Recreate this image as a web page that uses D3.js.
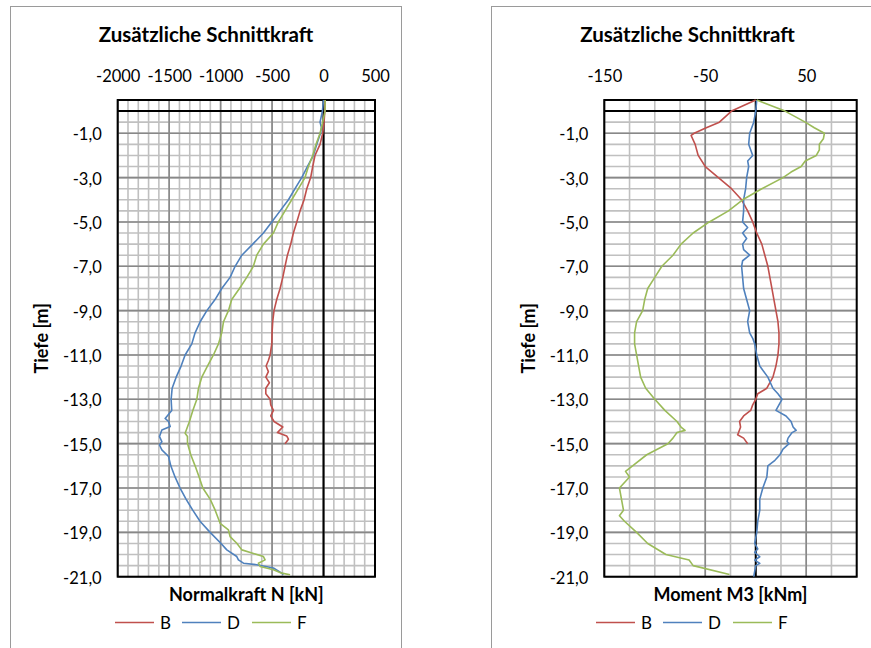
<!DOCTYPE html>
<html>
<head>
<meta charset="utf-8">
<script src="https://cdn.jsdelivr.net/npm/d3@7"></script>
<style>
  body { margin: 0; background: #fff; }
  svg { display: block; }
  text { font-family: Lato, "Open Sans", "DejaVu Sans", sans-serif; fill: #000; }
</style>
</head>
<body>
<svg id="chart" width="871" height="648"></svg>
<script>
// ---- data -------------------------------------------------------------
const seriesNames  = ["B", "D", "F"];
const seriesColors = ["#C0504D", "#4F81BD", "#9BBB59"];

const depthTicks  = [-1, -3, -5, -7, -9, -11, -13, -15, -17, -19, -21];
const normalTicks = [-2000, -1500, -1000, -500, 0, 500];
const momentTicks = [-150, -50, 50];

// Normalkraft N [kN] as [Tiefe m, N]
const normalB = [[0.5,15],[0,12],[-0.5,5],[-1,-8],[-1.5,-34],[-2,-83],[-2.5,-105],[-3,-125],[-3.5,-163],
  [-4,-189],[-4.5,-228],[-5,-260],[-5.5,-293],[-6,-319],[-6.5,-351],[-7,-374],[-7.5,-396],[-8,-422],
  [-8.5,-455],[-9,-481],[-9.5,-494],[-10,-500],[-10.5,-503],[-11,-519],[-11.25,-536],[-11.5,-558],
  [-11.75,-536],[-12,-561],[-12.25,-526],[-12.5,-561],[-12.75,-561],[-13,-519],[-13.25,-513],
  [-13.5,-487],[-13.75,-513],[-14,-481],[-14.25,-396],[-14.5,-448],[-14.65,-358],[-14.8,-341],[-15,-374]];
const normalD = [[0.5,0],[0,-11],[-0.5,-34],[-0.75,-20],[-1,-30],[-1.5,-66],[-2,-99],[-2.5,-157],
  [-3,-212],[-3.5,-277],[-4,-341],[-4.5,-422],[-5,-503],[-5.5,-584],[-6,-688],[-6.5,-794],[-7,-859],
  [-7.5,-908],[-8,-989],[-8.5,-1054],[-9,-1134],[-9.5,-1199],[-10,-1248],[-10.5,-1280],[-11,-1345],
  [-11.5,-1384],[-12,-1432],[-12.5,-1471],[-13,-1481],[-13.5,-1475],[-13.86,-1539],[-14,-1506],
  [-14.23,-1490],[-14.38,-1571],[-14.68,-1594],[-14.91,-1571],[-15.06,-1594],[-15.28,-1571],
  [-15.58,-1506],[-16,-1484],[-16.5,-1443],[-17,-1394],[-17.5,-1336],[-18,-1271],[-18.5,-1200],
  [-19,-1102],[-19.49,-998],[-19.79,-940],[-20.09,-843],[-20.24,-827],[-20.39,-778],[-20.46,-649],
  [-20.61,-487],[-20.84,-406],[-20.91,-390]];
const normalF = [[0.5,15],[0,15],[-0.5,-8],[-1,-34],[-1.5,-73],[-2,-105],[-2.5,-147],[-3,-180],
  [-3.5,-244],[-4,-309],[-4.5,-374],[-5,-439],[-5.5,-487],[-6,-584],[-6.5,-649],[-7,-682],[-7.5,-746],
  [-8,-817],[-8.5,-892],[-9,-924],[-9.5,-972],[-10,-989],[-10.5,-1021],[-11,-1070],[-11.5,-1128],
  [-12,-1183],[-12.5,-1215],[-13,-1231],[-13.5,-1270],[-14,-1303],[-14.53,-1345],[-14.68,-1322],
  [-14.98,-1322],[-15.5,-1290],[-16,-1248],[-16.5,-1209],[-17,-1173],[-17.5,-1102],[-18,-1053],
  [-18.59,-1005],[-18.89,-924],[-19.19,-908],[-19.49,-843],[-19.79,-794],[-20.09,-584],[-20.24,-568],
  [-20.39,-633],[-20.54,-616],[-20.69,-487],[-20.84,-406],[-20.91,-325]];

// Moment M3 [kNm] as [Tiefe m, M]
const momentB = [[0.5,0],[0,-24],[-0.5,-36],[-0.75,-49],[-1,-61],[-1.1,-64],[-1.5,-60],[-2,-57],
  [-2.5,-50],[-3,-37],[-3.5,-24],[-4,-14],[-4.5,-8],[-5,-3],[-5.5,1],[-6,6],[-6.5,9],[-7,12],[-7.5,14],
  [-8,16],[-8.5,18],[-9,20],[-9.5,22],[-10,23],[-10.5,23],[-11,22],[-11.5,20],[-12,17],[-12.5,11],
  [-12.75,2],[-13,0],[-13.25,-3],[-13.5,-5],[-13.75,-12],[-14,-16],[-14.25,-15],[-14.5,-17],
  [-14.6,-18],[-14.75,-12],[-15,-8]];
const momentD = [[0.5,1],[0,0],[-0.5,-2],[-1,-6],[-1.5,-7],[-2,-3],[-2.25,-8],[-2.5,-7],[-3,-9],
  [-3.5,-10],[-4,-12],[-4.5,-12],[-5,-13],[-5.25,-8],[-5.5,-13],[-5.75,-9],[-6,-13],[-6.25,-12],
  [-6.5,-6],[-6.75,-13],[-7,-14],[-7.5,-13],[-8,-12],[-8.5,-9],[-9,-6],[-9.5,-8],[-10,-6],[-10.25,-3],
  [-10.5,-1],[-10.75,0],[-11,1],[-11.5,4],[-12,12],[-12.5,17],[-12.75,22],[-13,26],[-13.25,23],
  [-13.5,20],[-13.75,30],[-14,35],[-14.25,37],[-14.4,40],[-14.5,36],[-14.75,32],[-14.9,31],[-15,33],
  [-15.25,27],[-15.5,24],[-15.75,19],[-16,12],[-16.5,11],[-17,7],[-17.5,4],[-18,4],[-18.5,2],[-19,1],
  [-19.5,-1],[-19.75,2],[-19.9,-1],[-20.1,4],[-20.25,-1],[-20.4,4],[-20.5,0],[-21,-2]];
const momentF = [[0.5,1],[0,29],[-0.5,49],[-0.75,58],[-1,68],[-1.25,67],[-1.5,63],[-1.75,63],[-2,60],
  [-2.25,49],[-2.5,45],[-2.75,35],[-3,27],[-3.5,6],[-4,-13],[-4.5,-27],[-5,-46],[-5.5,-62],[-6,-74],
  [-6.5,-82],[-7,-93],[-7.5,-100],[-8,-107],[-8.5,-110],[-9,-112],[-9.5,-118],[-10,-120],[-10.5,-120],
  [-11,-118],[-11.5,-116],[-12,-114],[-12.5,-109],[-13,-100],[-13.5,-90],[-14,-78],[-14.25,-74],
  [-14.4,-70],[-14.5,-78],[-14.75,-82],[-15,-87],[-15.5,-108],[-16,-122],[-16.25,-129],[-16.5,-125],
  [-17,-135],[-17.5,-133],[-18,-131],[-18.25,-135],[-18.5,-130],[-19,-118],[-19.5,-107],[-20,-89],
  [-20.25,-66],[-20.5,-62],[-20.9,-26]];

// ---- drawing ----------------------------------------------------------
const svg = d3.select("#chart");

const depthDomain = [0.5, -21];
const plotTop = 100, plotBottom = 576.7;
const y = d3.scaleLinear().domain(depthDomain).range([plotTop, plotBottom]);
const fmtDepth = d => d3.format(".1f")(d).replace(".", ",").replace("−", "-");

function drawChart(cfg) {
  const g = svg.append("g");
  const x = d3.scaleLinear().domain(cfg.xDomain).range([cfg.plotLeft, cfg.plotRight]);

  // outer chart frame
  g.append("rect")
    .attr("x", cfg.frameLeft + 0.5).attr("y", 6.5)
    .attr("width", cfg.frameWidth).attr("height", 700)
    .attr("fill", "none").attr("stroke", "#9a9a9a").attr("stroke-width", 1);

  // title
  g.append("text")
    .attr("x", cfg.titleX).attr("y", 42)
    .attr("text-anchor", "middle")
    .attr("font-size", 20.5).attr("font-weight", 700)
    .text("Zusätzliche Schnittkraft");

  // minor gridlines
  const xMinor = d3.range(cfg.xDomain[0], cfg.xDomain[1] + 1e-9, cfg.xMinorStep);
  const yMinor = d3.range(-21, 0.5 + 1e-9, 0.5);
  g.append("g").selectAll("line").data(xMinor).join("line")
    .attr("x1", d => x(d)).attr("x2", d => x(d))
    .attr("y1", plotTop).attr("y2", plotBottom)
    .attr("stroke", "#c0c0c0").attr("stroke-width", 1.6);
  g.append("g").selectAll("line").data(yMinor).join("line")
    .attr("x1", cfg.plotLeft).attr("x2", cfg.plotRight)
    .attr("y1", d => y(d)).attr("y2", d => y(d))
    .attr("stroke", "#c0c0c0").attr("stroke-width", 1.6);

  // major gridlines
  g.append("g").selectAll("line").data(cfg.xMajor).join("line")
    .attr("x1", d => x(d)).attr("x2", d => x(d))
    .attr("y1", plotTop).attr("y2", plotBottom)
    .attr("stroke", "#888").attr("stroke-width", 1.6);
  g.append("g").selectAll("line").data(depthTicks).join("line")
    .attr("x1", cfg.plotLeft).attr("x2", cfg.plotRight)
    .attr("y1", d => y(d)).attr("y2", d => y(d))
    .attr("stroke", "#888").attr("stroke-width", 1.6);

  // axis lines through zero
  g.append("line")
    .attr("x1", x(0)).attr("x2", x(0)).attr("y1", plotTop).attr("y2", plotBottom)
    .attr("stroke", "#000").attr("stroke-width", 2);
  g.append("line")
    .attr("x1", cfg.plotLeft).attr("x2", cfg.plotRight).attr("y1", y(0)).attr("y2", y(0))
    .attr("stroke", "#000").attr("stroke-width", 2);

  // plot area border
  g.append("rect")
    .attr("x", cfg.plotLeft).attr("y", plotTop)
    .attr("width", cfg.plotRight - cfg.plotLeft).attr("height", plotBottom - plotTop)
    .attr("fill", "none").attr("stroke", "#000").attr("stroke-width", 2);

  // x tick labels (top)
  const xAxis = d3.axisTop(x).tickValues(cfg.xTicks).tickSize(0).tickPadding(0)
    .tickFormat(d => String(d));
  const xa = g.append("g").attr("transform", "translate(0,82)").call(xAxis);
  xa.select(".domain").remove();
  xa.selectAll("text").attr("font-size", 16.5).attr("font-family", null).attr("fill", "#000").attr("dy", 0);

  // y tick labels (left)
  const yAxis = d3.axisLeft(y).tickValues(depthTicks).tickSize(0).tickPadding(0)
    .tickFormat(fmtDepth);
  const ya = g.append("g").attr("transform", `translate(${cfg.plotLeft - 16},0)`).call(yAxis);
  ya.select(".domain").remove();
  ya.selectAll("text").attr("font-size", 16.5).attr("font-family", null).attr("fill", "#000").attr("dy", "0.4em");

  // axis titles
  g.append("text")
    .attr("transform", `translate(${cfg.yTitleX},${(plotTop + plotBottom) / 2}) rotate(-90)`)
    .attr("text-anchor", "middle").attr("dy", "0.36em")
    .attr("font-size", 18).attr("font-weight", 700)
    .text("Tiefe [m]");
  g.append("text")
    .attr("x", (cfg.plotLeft + cfg.plotRight) / 2).attr("y", 601)
    .attr("text-anchor", "middle")
    .attr("font-size", 18).attr("font-weight", 700)
    .text(cfg.xTitle);

  // series
  const line = d3.line().x(d => x(d[1])).y(d => y(d[0]));
  cfg.series.forEach((s, i) => {
    g.append("path").datum(s)
      .attr("d", line)
      .attr("fill", "none")
      .attr("stroke", seriesColors[i])
      .attr("stroke-width", 1.6)
      .attr("stroke-linejoin", "round");
  });

  // legend
  const lg = g.append("g").attr("transform", `translate(${cfg.legendX},622.5)`);
  seriesNames.forEach((name, i) => {
    const off = cfg.legendOffsets[i];
    lg.append("line").attr("x1", off).attr("x2", off + 39).attr("y1", 0).attr("y2", 0)
      .attr("stroke", seriesColors[i]).attr("stroke-width", 1.6);
    lg.append("text").attr("x", off + 45).attr("y", 0).attr("dy", "0.37em")
      .attr("font-size", 17).text(name);
  });
}

drawChart({
  frameLeft: 10, frameWidth: 391, titleX: 206,
  plotLeft: 117.7, plotRight: 375,
  xDomain: [-2000, 500], xMinorStep: 100, xMajor: normalTicks, xTicks: normalTicks,
  yTitleX: 42, xTitle: "Normalkraft N [kN]",
  series: [normalB, normalD, normalF],
  legendX: 115, legendOffsets: [0, 67, 137]
});

drawChart({
  frameLeft: 491, frameWidth: 400, titleX: 687.5,
  plotLeft: 604.3, plotRight: 856.7,
  xDomain: [-150, 100], xMinorStep: 25, xMajor: momentTicks, xTicks: momentTicks,
  yTitleX: 529, xTitle: "Moment M3 [kNm]",
  series: [momentB, momentD, momentF],
  legendX: 596, legendOffsets: [0, 67, 137]
});
</script>
</body>
</html>
